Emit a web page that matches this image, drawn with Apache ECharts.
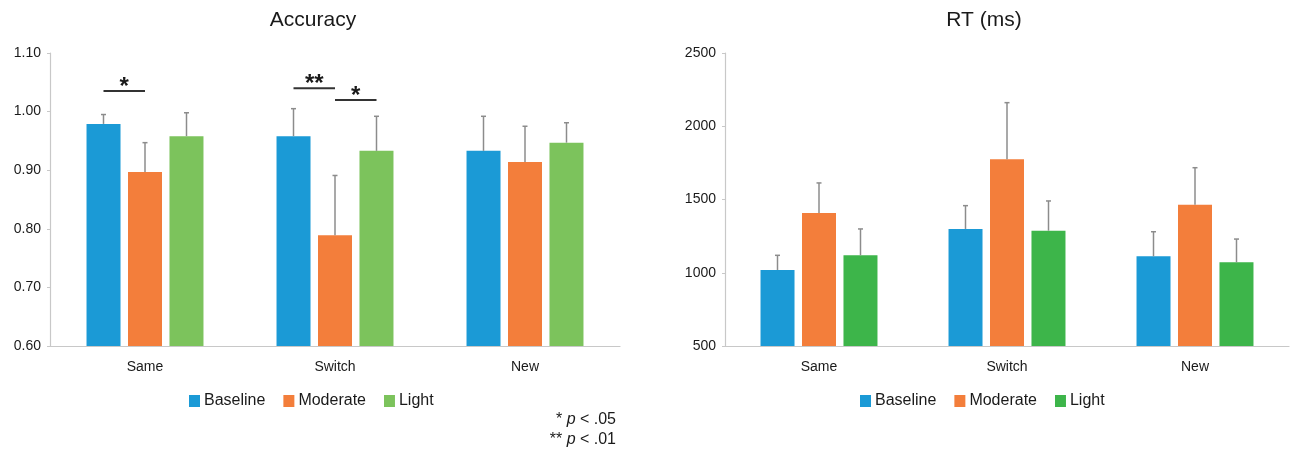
<!DOCTYPE html>
<html>
<head>
<meta charset="utf-8">
<script src="https://cdn.jsdelivr.net/npm/echarts@6/dist/echarts.min.js"></script>
<style>
  html, body { margin: 0; padding: 0; background: #fff; }
  #main { width: 1290px; height: 452px; }
</style>
</head>
<body>
<div id="main"></div>
<script>
// categories and series
var categories = ['Same', 'Switch', 'New'];
var seriesNames = ['Baseline', 'Moderate', 'Light'];

// accuracy (left panel)
var accBaseline = [0.979, 0.958, 0.933];
var accModerate = [0.897, 0.789, 0.914];
var accLight = [0.958, 0.933, 0.947];
var accBaselineErr = [0.016, 0.047, 0.059];
var accModerateErr = [0.050, 0.102, 0.061];
var accLightErr = [0.040, 0.059, 0.034];

// RT in ms (right panel)
var rtBaseline = [1019, 1299, 1112];
var rtModerate = [1408, 1774, 1465];
var rtLight = [1119, 1287, 1071];
var rtBaselineErr = [100, 159, 168];
var rtModerateErr = [205, 387, 252];
var rtLightErr = [180, 203, 159];

// significance brackets on accuracy panel
var sigCategory = [0, 1, 1];
var sigFrom = [0, 0, 1];
var sigTo = [1, 1, 2];
var sigLevel = [1.035, 1.040, 1.020];
var sigMarks = ['*', '**', '*'];

var FONT = 'Liberation Sans, Arial, sans-serif';
var TXT = '#1a1a1a';
var BLUE = '#1b9ad6', ORANGE = '#f37e3b', GREEN_L = '#7cc35c', GREEN_R = '#3db54a';
var ERR = '#8c8c8c';
var BAR_W = 34;
var offsets = [-41.5, 0, 41.5];   // bar centre offsets inside a category

var chart = echarts.init(document.getElementById('main'));

function bars(name, data, color, idx) {
  return {
    name: name, type: 'bar', xAxisIndex: idx, yAxisIndex: idx,
    data: data, barWidth: BAR_W, barGap: '22%',
    itemStyle: { color: color }, silent: true
  };
}

function errBars(vals, errs, k, idx) {
  return {
    type: 'custom', xAxisIndex: idx, yAxisIndex: idx, silent: true, z: 3,
    data: vals.map(function (v, i) { return [i, v, v + errs[i]]; }),
    encode: { x: 0, y: [1, 2] },
    renderItem: function (params, api) {
      var lo = api.coord([api.value(0), api.value(1)]);
      var hi = api.coord([api.value(0), api.value(2)]);
      var x = lo[0] + offsets[k];
      var st = { stroke: ERR, lineWidth: 1.5 };
      return {
        type: 'group',
        children: [
          { type: 'line', shape: { x1: x, y1: lo[1], x2: x, y2: hi[1] }, style: st },
          { type: 'line', shape: { x1: x - 2.5, y1: hi[1], x2: x + 2.5, y2: hi[1] }, style: st }
        ]
      };
    }
  };
}

function xAxis(idx) {
  return {
    type: 'category', gridIndex: idx, data: categories,
    axisLine: { lineStyle: { color: '#c8c8c8', width: 1.2 } },
    axisTick: { length: 6, lineStyle: { color: '#c8c8c8' } },
    axisLabel: { color: TXT, fontSize: 14, fontFamily: FONT, margin: 14 }
  };
}

function yAxis(idx, min, max, step, digits) {
  return {
    type: 'value', gridIndex: idx, min: min, max: max, interval: step,
    splitLine: { show: false },
    axisLine: { show: true, lineStyle: { color: '#c8c8c8', width: 1.2 } },
    axisTick: { show: true, length: 3, lineStyle: { color: '#c8c8c8' } },
    axisLabel: {
      color: TXT, fontSize: 14, fontFamily: FONT, margin: 9,
      formatter: function (v) { return v.toFixed(digits); }
    }
  };
}

var sigSeries = {
  type: 'custom', xAxisIndex: 0, yAxisIndex: 0, silent: true, z: 4,
  data: sigCategory.map(function (c, i) { return [c, sigLevel[i]]; }),
  encode: { x: 0, y: 1 },
  renderItem: function (params, api) {
    var i = params.dataIndex;
    var p = api.coord([api.value(0), api.value(1)]);
    var x1 = p[0] + offsets[sigFrom[i]];
    var x2 = p[0] + offsets[sigTo[i]];
    return {
      type: 'group',
      children: [
        { type: 'line', shape: { x1: x1, y1: p[1], x2: x2, y2: p[1] },
          style: { stroke: '#333', lineWidth: 2 } },
        { type: 'text', x: (x1 + x2) / 2, y: p[1] + 8,
          style: { text: sigMarks[i], fontSize: 24, fontWeight: 'bold', fontFamily: FONT,
                   fill: TXT, align: 'center', verticalAlign: 'bottom' } }
      ]
    };
  }
};

var legendBase = {
  orient: 'horizontal', top: 393, padding: 0, itemWidth: 11, itemHeight: 12, itemGap: 18,
  icon: 'rect', textStyle: { fontSize: 16, color: TXT, fontFamily: FONT, padding: [0, 0, 0, -1] }
};

var option = {
  animation: false,
  grid: [
    { left: 50, top: 53, width: 570, height: 293 },
    { left: 725, top: 53, width: 564, height: 293 }
  ],
  xAxis: [xAxis(0), xAxis(1)],
  yAxis: [yAxis(0, 0.6, 1.1, 0.1, 2), yAxis(1, 500, 2500, 500, 0)],
  legend: [
    Object.assign({}, legendBase, {
      left: 189,
      data: [
        { name: 'Baseline', itemStyle: { color: BLUE } },
        { name: 'Moderate', itemStyle: { color: ORANGE } },
        { name: 'Light', itemStyle: { color: GREEN_L } }
      ]
    }),
    Object.assign({}, legendBase, {
      left: 860,
      data: [
        { name: 'Baseline', itemStyle: { color: BLUE } },
        { name: 'Moderate', itemStyle: { color: ORANGE } },
        { name: 'Light', itemStyle: { color: GREEN_R } }
      ]
    })
  ],
  graphic: [
    { type: 'text', x: 313, y: 20,
      style: { text: 'Accuracy', font: '21px ' + FONT, fill: TXT, align: 'center', verticalAlign: 'middle' } },
    { type: 'text', x: 984, y: 20,
      style: { text: 'RT (ms)', font: '21px ' + FONT, fill: TXT, align: 'center', verticalAlign: 'middle' } },
    { type: 'text', x: 616, y: 420,
      style: {
        text: '{n|* }{i|p}{n| < .05}', align: 'right', verticalAlign: 'middle',
        rich: {
          n: { fontSize: 16, fontFamily: FONT, fill: TXT },
          i: { fontSize: 16, fontFamily: FONT, fontStyle: 'italic', fill: TXT }
        }
      } },
    { type: 'text', x: 616, y: 440,
      style: {
        text: '{n|** }{i|p}{n| < .01}', align: 'right', verticalAlign: 'middle',
        rich: {
          n: { fontSize: 16, fontFamily: FONT, fill: TXT },
          i: { fontSize: 16, fontFamily: FONT, fontStyle: 'italic', fill: TXT }
        }
      } }
  ],
  series: [
    bars('Baseline', accBaseline, BLUE, 0),
    bars('Moderate', accModerate, ORANGE, 0),
    bars('Light', accLight, GREEN_L, 0),
    errBars(accBaseline, accBaselineErr, 0, 0),
    errBars(accModerate, accModerateErr, 1, 0),
    errBars(accLight, accLightErr, 2, 0),
    sigSeries,
    bars('Baseline', rtBaseline, BLUE, 1),
    bars('Moderate', rtModerate, ORANGE, 1),
    bars('Light', rtLight, GREEN_R, 1),
    errBars(rtBaseline, rtBaselineErr, 0, 1),
    errBars(rtModerate, rtModerateErr, 1, 1),
    errBars(rtLight, rtLightErr, 2, 1)
  ]
};

chart.setOption(option);
</script>
</body>
</html>
